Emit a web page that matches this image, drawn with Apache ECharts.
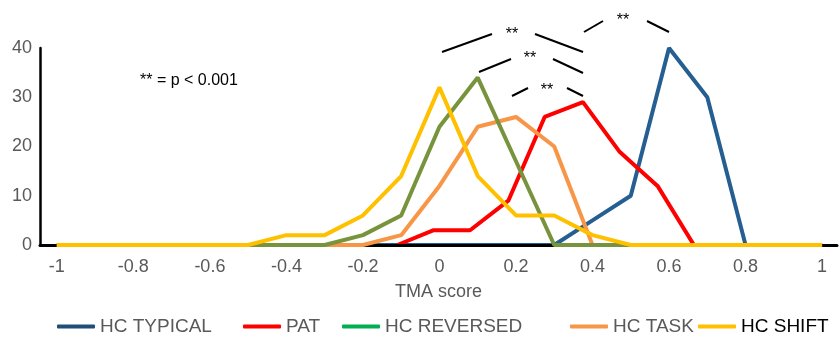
<!DOCTYPE html>
<html>
<head>
<meta charset="utf-8">
<script src="https://cdn.jsdelivr.net/npm/echarts@6/dist/echarts.min.js"></script>
<style>
  body { margin: 0; background: #fff; }
  #tmaChart { width: 840px; height: 340px; }
</style>
</head>
<body>
<div id="tmaChart"></div>
<script>
  // TMA score bins
  var scores = [-1, -0.9, -0.8, -0.7, -0.6, -0.5, -0.4, -0.3, -0.2, -0.1, 0,
                0.1, 0.2, 0.3, 0.4, 0.5, 0.6, 0.7, 0.8, 0.9, 1];

  var hcTypical  = [0, 0, 0, 0, 0, 0, 0, 0, 0, 0, 0, 0, 0, 0, 5, 10, 40, 30, 0, 0, 0];
  var hcTask     = [0, 0, 0, 0, 0, 0, 0, 0, 0, 2, 12, 24, 26, 20, 0, 0, 0, 0, 0, 0, 0];
  var hcReversed = [0, 0, 0, 0, 0, 0, 0, 0, 2, 6, 24, 34, 17, 0, 0, 0, 0, 0, 0, 0, 0];
  var hcShift    = [0, 0, 0, 0, 0, 0, 2, 2, 6, 14, 32, 14, 6, 6, 2, 0, 0, 0, 0, 0, 0];

  // PAT curve sits on its own, slightly narrower, spacing in the source figure
  var patScores = [-0.11, -0.015, 0.08, 0.18, 0.275, 0.375, 0.47, 0.57, 0.665];
  var pat       = [0, 3, 3, 9, 26, 29, 19, 12, 0];

  var names = ['HC TYPICAL', 'PAT', 'HC REVERSED', 'HC TASK', 'HC SHIFT'];

  function pairs(xs, ys) {
    return xs.map(function (x, i) { return [x, ys[i]]; });
  }

  function lineSeries(name, color, data, z) {
    return {
      name: name,
      type: 'line',
      data: data,
      symbol: 'none',
      z: z,
      itemStyle: { color: color },
      lineStyle: { color: color, width: 4 }
    };
  }

  function legendAt(left, name, iconColor, textColor) {
    return {
      left: left,
      top: 317,
      padding: 0,
      selectedMode: false,
      icon: 'roundRect',
      itemWidth: 38,
      itemHeight: 4,
      textStyle: { color: textColor, fontSize: 19, fontFamily: 'Liberation Sans' },
      data: [{ name: name, itemStyle: { color: iconColor }, lineStyle: { color: iconColor } }]
    };
  }

  function bracketLine(x1, y1, x2, y2) {
    return {
      type: 'line',
      shape: { x1: x1, y1: y1, x2: x2, y2: y2 },
      style: { stroke: '#000', lineWidth: 2 },
      z: 10
    };
  }

  function stars(x, y) {
    return {
      type: 'text',
      x: x,
      y: y,
      style: { text: '**', fill: '#000', font: '16px "Liberation Sans"', align: 'center', verticalAlign: 'top' },
      z: 10
    };
  }

  var chart = echarts.init(document.getElementById('tmaChart'));

  var option = {
    animation: false,
    backgroundColor: '#fff',
    textStyle: { fontFamily: 'Liberation Sans' },
    grid: { left: 40, right: 0, top: 48, bottom: 95 },
    xAxis: {
      type: 'value',
      min: -1.044,
      max: 1.039,
      splitNumber: 10,
      minInterval: 0.2,
      maxInterval: 0.2,
      z: 3,
      axisLine: { onZero: false, lineStyle: { color: '#000', width: 3 } },
      axisTick: { show: false },
      splitLine: { show: false },
      axisLabel: {
        color: '#595959',
        fontSize: 18,
        margin: 13,
        formatter: function (v) {
          var k = v * 5;
          if (Math.abs(k - Math.round(k)) > 1e-6) return '';
          return String(Number(v.toFixed(1)));
        }
      },
      name: 'TMA score',
      nameLocation: 'middle',
      nameGap: 38,
      nameTextStyle: { color: '#595959', fontSize: 18 }
    },
    yAxis: {
      type: 'value',
      min: 0,
      max: 40,
      interval: 10,
      axisLine: { show: true, onZero: false, lineStyle: { color: '#000', width: 2.5 } },
      axisTick: { show: false },
      splitLine: { show: false },
      axisLabel: { color: '#595959', fontSize: 18, margin: 8 }
    },
    legend: [
      legendAt(57, names[0], '#1f4e79', '#595959'),
      legendAt(243, names[1], '#ff0000', '#595959'),
      legendAt(342, names[2], '#00b050', '#595959'),
      legendAt(570, names[3], '#f79646', '#595959'),
      legendAt(698, names[4], '#ffc000', '#000000')
    ],
    series: [
      lineSeries(names[0], '#255e91', pairs(scores, hcTypical), 2),
      lineSeries(names[1], '#ff0000', pairs(patScores, pat), 2),
      lineSeries(names[3], '#f79646', pairs(scores, hcTask), 4),
      lineSeries(names[2], '#77933c', pairs(scores, hcReversed), 4),
      lineSeries(names[4], '#ffc000', pairs(scores, hcShift), 4)
    ],
    graphic: [
      {
        type: 'text',
        x: 140,
        y: 81,
        style: { text: '** = p < 0.001', fill: '#000', font: '16px "Liberation Sans"', verticalAlign: 'middle' }
      },
      bracketLine(584, 32, 603, 21), bracketLine(647, 21, 669, 32), stars(623, 13),
      bracketLine(442, 52, 492, 34), bracketLine(535, 34, 583, 52), stars(512, 27),
      bracketLine(479, 72, 511, 59), bracketLine(553, 59, 583, 73), stars(530, 51),
      bracketLine(512, 96, 528, 88), bracketLine(567, 88, 583, 96), stars(547, 83)
    ]
  };

  chart.setOption(option);
</script>
</body>
</html>
